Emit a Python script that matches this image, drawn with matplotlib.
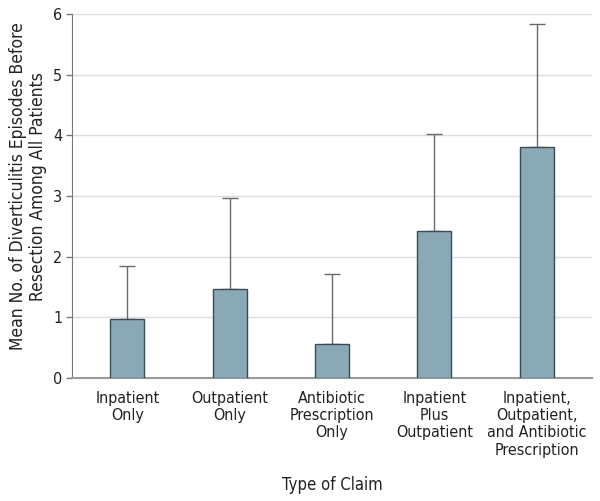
import numpy as np
import matplotlib
matplotlib.use("Agg")
import matplotlib.pyplot as plt

# values
categories = ["Inpatient\nOnly", "Outpatient\nOnly", "Antibiotic\nPrescription\nOnly",
              "Inpatient\nPlus\nOutpatient",
              "Inpatient,\nOutpatient,\nand Antibiotic\nPrescription"]
means = [0.97, 1.46, 0.56, 2.42, 3.80]
upper_err = [0.87, 1.50, 1.15, 1.61, 2.03]   # upper error (SD) only

# reference uses a condensed sans, DejaVu Sans Condensed is close
plt.rcParams['font.family'] = ['DejaVu Sans']
plt.rcParams['font.stretch'] = 'condensed'

fig = plt.figure(figsize=(6.0, 5.01), dpi=100)
ax = fig.add_axes([0.12, 0.2455, 0.8667, 0.7265])

x = np.arange(len(categories))
ax.bar(x, means, width=0.33, color="#8aa9b7", edgecolor="#3c4c54", linewidth=1.0, zorder=3)
ax.errorbar(x, means, yerr=[np.zeros(len(means)), upper_err], fmt="none",
            ecolor="#6a6a6a", elinewidth=1.0, capsize=6, capthick=1.0, zorder=2)

ax.set_xlim(-0.54, 4.54)
ax.set_ylim(0, 6)
ax.set_yticks(range(0, 7))
ax.set_xticks(x)
ax.set_xticklabels(categories, fontsize=11.5, color="#222222", linespacing=1.2)
ax.tick_params(axis="x", length=0, pad=9)
ax.tick_params(axis="y", length=4, width=1, color="#777777", labelsize=11.5,
               labelcolor="#222222", pad=3)

ax.grid(axis="y", color="#dddddd", linewidth=1.0, zorder=0)
ax.set_axisbelow(True)
for side in ["top", "right"]:
    ax.spines[side].set_visible(False)
ax.spines["left"].set_color("#777777")
ax.spines["bottom"].set_color("#999999")
ax.spines["bottom"].set_linewidth(1.5)

ax.set_ylabel("Mean No. of Diverticulitis Episodes Before\nResection Among All Patients",
              fontsize=12.5, color="#222222", labelpad=4, linespacing=1.15)
ax.yaxis.label.set_y(0.527)   # label sits a bit above the axis middle
ax.set_xlabel("Type of Claim", fontsize=12, color="#222222", labelpad=13)

fig.savefig("out.png", dpi=100)
